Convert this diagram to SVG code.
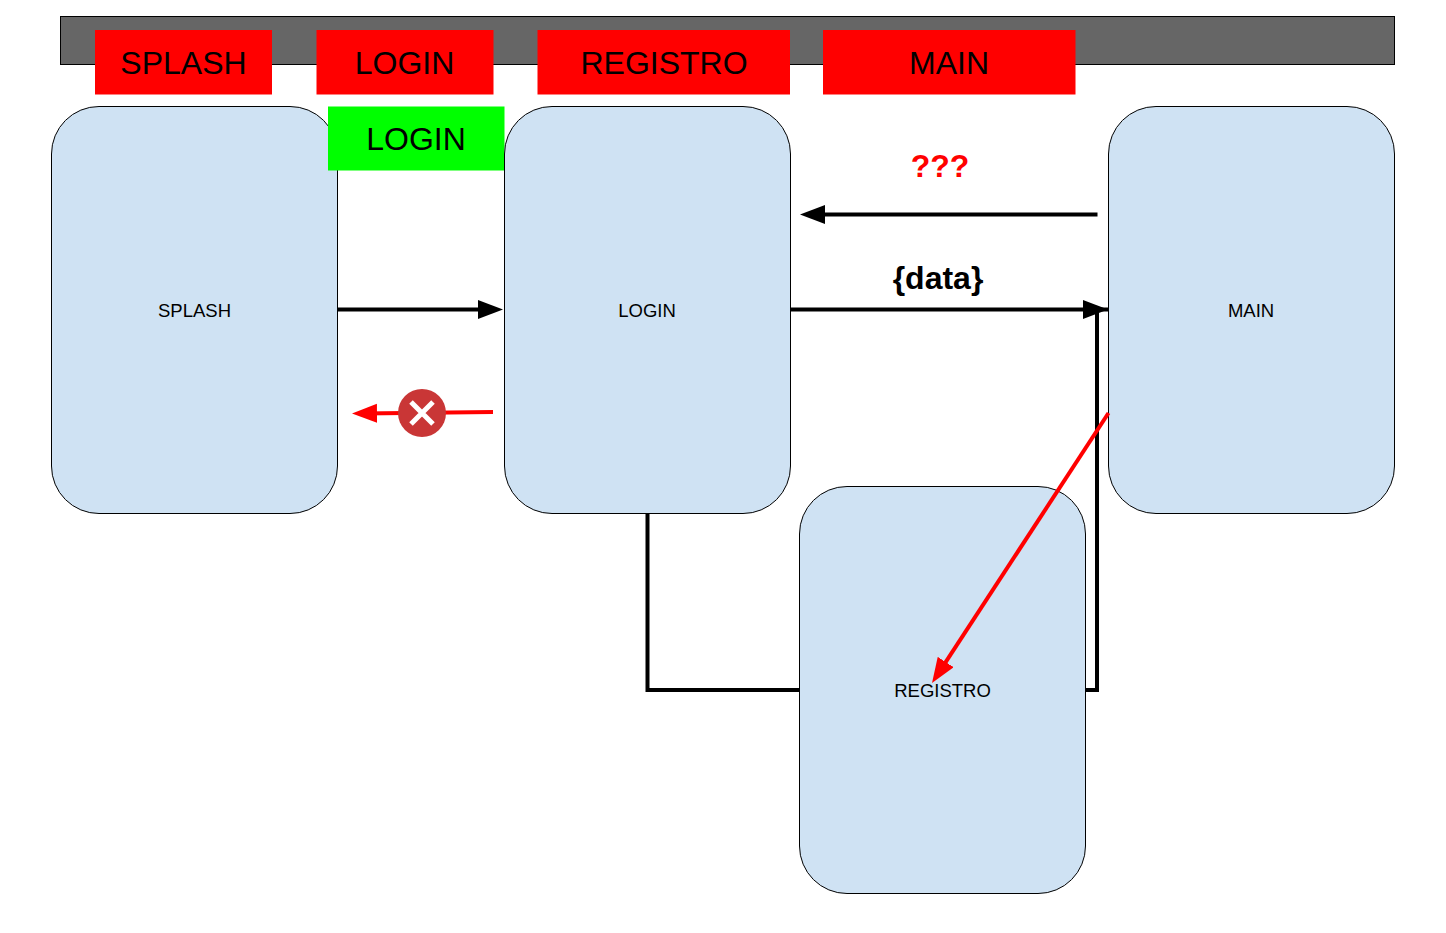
<svg xmlns="http://www.w3.org/2000/svg" width="1446" height="933" viewBox="0 0 1446 933">
<style>
text{font-family:"Liberation Sans",Arial,sans-serif;text-anchor:middle;fill:#000}
.n{fill:#cfe2f3;stroke:#000;stroke-width:1}
.l{font-size:18.500px}
.t{font-size:32px}
.k{fill:none;stroke:#000;stroke-width:4}
.r{fill:none;stroke:#f00;stroke-width:4}
</style>
<defs>
<marker id="ab" markerUnits="userSpaceOnUse" markerWidth="26" markerHeight="20" refX="15" refY="9.500" orient="auto"><path d="M0 0L25 9.500L0 19Z" fill="#000"/></marker>
<marker id="ar" markerUnits="userSpaceOnUse" markerWidth="26" markerHeight="20" refX="15" refY="9.500" orient="auto"><path d="M0 0L25 9.500L0 19Z" fill="#f00"/></marker>
</defs>
<rect id="bar" x="60.500" y="16.500" width="1334" height="48" fill="#666" stroke="#000"/>
<g id="tab-splash"><rect x="95" y="30" width="177" height="64.500" fill="#f00"/><text class="t" x="183.500" y="74">SPLASH</text></g>
<g id="tab-login"><rect x="316.500" y="30" width="177" height="64.500" fill="#f00"/><text class="t" x="404.500" y="74">LOGIN</text></g>
<g id="tab-registro"><rect x="537.500" y="30" width="252.500" height="64.500" fill="#f00"/><text class="t" x="664" y="74">REGISTRO</text></g>
<g id="tab-main"><rect x="823" y="30" width="252.500" height="64.500" fill="#f00"/><text class="t" x="949" y="74">MAIN</text></g>
<g id="splash"><rect class="n" x="51.500" y="106.500" width="286" height="407" rx="47.500"/><text class="l" x="194.500" y="316.500">SPLASH</text></g>
<g id="tab-login-green"><rect x="328" y="106.500" width="176.500" height="64" fill="#0f0"/><text class="t" x="416" y="150">LOGIN</text></g>
<g id="login"><rect class="n" x="504.500" y="106.500" width="286" height="407" rx="47.500"/><text class="l" x="647" y="316.500">LOGIN</text></g>
<g id="main"><rect class="n" x="1108.500" y="106.500" width="286" height="407" rx="47.500"/><text class="l" x="1251" y="316.500">MAIN</text></g>
<g id="registro"><rect class="n" x="799.500" y="486.500" width="286" height="407" rx="47.500"/><text class="l" x="942.500" y="696.500">REGISTRO</text></g>
<g id="connectors">
<path class="k" d="M338 309.500H493" marker-end="url(#ab)"/>
<path class="k" d="M791 309.500H1098" marker-end="url(#ab)"/>
<path class="k" d="M1097.500 214.500H810" marker-end="url(#ab)"/>
<path class="k" d="M647.500 514V690H799"/>
<path class="k" d="M1086 690H1097V309.500H1108"/>
<path class="r" d="M493 412L362 413.400" marker-end="url(#ar)"/>
<path class="r" d="M1108.500 413L937.500 674.600" marker-end="url(#ar)"/>
</g>
<g id="cross"><circle cx="422" cy="413" r="24" fill="#c93636"/><path d="M411 402L433 424M433 402L411 424" stroke="#fff" stroke-width="5" fill="none"/></g>
<text x="940" y="176.500" font-size="32" font-weight="700" style="fill:#f00">???</text>
<text x="938" y="289" font-size="32" font-weight="700">{data}</text>
</svg>
